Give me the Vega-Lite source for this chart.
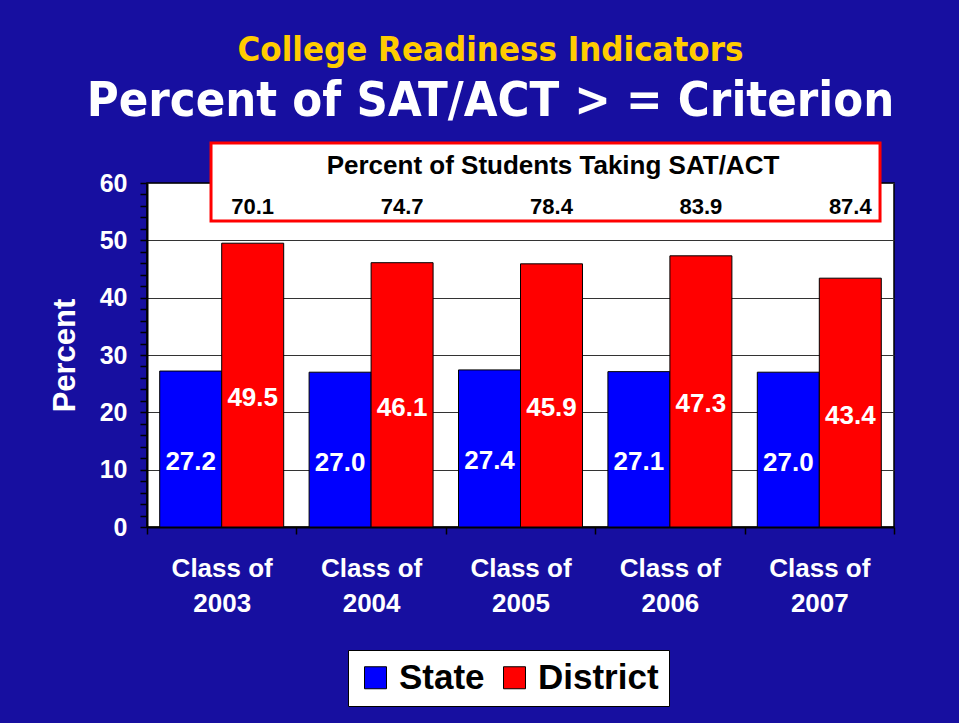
{
  "$schema": "https://vega.github.io/schema/vega-lite/v6.json",
  "width": 747,
  "height": 344,
  "autosize": {"type": "none"},
  "padding": {"left": 147, "top": 183, "right": 65, "bottom": 196},
  "background": "#170fa0",
  "title": {
    "text": "College Readiness Indicators",
    "subtitle": "Percent of SAT/ACT > = Criterion",
    "anchor": "middle",
    "frame": "group",
    "dx": -30,
    "offset": 15,
    "font": "DejaVu Sans Condensed",
    "fontSize": 34.5,
    "fontWeight": "bold",
    "color": "#ffcc00",
    "subtitleFont": "DejaVu Sans Condensed",
    "subtitleFontSize": 48.5,
    "subtitleFontWeight": "bold",
    "subtitleColor": "white",
    "subtitlePadding": 9
  },
  "datasets": {
    "scores": [
      {"class": "Class of 2003", "series": "State", "value": 27.2},
      {"class": "Class of 2003", "series": "District", "value": 49.5},
      {"class": "Class of 2004", "series": "State", "value": 27.0},
      {"class": "Class of 2004", "series": "District", "value": 46.1},
      {"class": "Class of 2005", "series": "State", "value": 27.4},
      {"class": "Class of 2005", "series": "District", "value": 45.9},
      {"class": "Class of 2006", "series": "State", "value": 27.1},
      {"class": "Class of 2006", "series": "District", "value": 47.3},
      {"class": "Class of 2007", "series": "State", "value": 27.0},
      {"class": "Class of 2007", "series": "District", "value": 43.4}
    ],
    "taking": [
      {"class": "Class of 2003", "taking": 70.1},
      {"class": "Class of 2004", "taking": 74.7},
      {"class": "Class of 2005", "taking": 78.4},
      {"class": "Class of 2006", "taking": 83.9},
      {"class": "Class of 2007", "taking": 87.4}
    ]
  },
  "config": {
    "view": {"fill": "white", "stroke": "black", "strokeWidth": 1.5},
    "font": "Liberation Sans"
  },
  "resolve": {"scale": {"x": "independent", "y": "independent"}},
  "layer": [
    {
      "data": {"values": [{}]},
      "layer": [
        {
          "mark": {"type": "rect", "fill": "white", "stroke": "#ff0000", "strokeWidth": 3},
          "encoding": {
            "x": {"datum": 0.0857, "type": "quantitative", "scale": {"domain": [0, 1]}, "axis": null},
            "x2": {"datum": 0.9813},
            "y": {"datum": 66.98, "type": "quantitative", "scale": {"domain": [0, 60], "nice": false}, "axis": null},
            "y2": {"datum": 53.37}
          }
        },
        {
          "mark": {"type": "text", "text": "Percent of Students Taking SAT/ACT", "font": "Liberation Sans", "fontSize": 26, "fontWeight": "bold", "color": "black"},
          "encoding": {
            "x": {"datum": 0.5435, "type": "quantitative", "axis": null},
            "y": {"datum": 63.0, "type": "quantitative", "axis": null}
          }
        }
      ]
    },
    {
      "layer": [
        {
          "data": {"name": "scores"},
          "mark": {"type": "bar", "stroke": "black", "strokeWidth": 1},
          "encoding": {
            "x": {
              "field": "class", "type": "nominal", "sort": null,
              "scale": {"paddingInner": 0, "paddingOuter": 0},
              "axis": {
                "title": null,
                "labelAngle": 0,
                "labelExpr": "datum.label ? ['Class of', substring(datum.label, 9)] : ''",
                "labelLineHeight": 35,
                "labelFont": "Liberation Sans",
                "labelFontSize": 26,
                "labelFontWeight": "bold",
                "labelColor": "white",
                "labelPadding": 21,
                "tickBand": "extent",
                "tickSize": 7,
                "tickColor": "black",
                "tickWidth": 1.5,
                "domainColor": "black",
                "domainWidth": 2
              }
            },
            "xOffset": {"field": "series", "type": "nominal", "sort": ["State", "District"], "scale": {"paddingInner": 0, "paddingOuter": 0.205}},
            "y": {
              "field": "value", "type": "quantitative",
              "scale": {"domain": [0, 60], "nice": false},
              "axis": {
                "title": "Percent",
                "titleColor": "white",
                "titleFont": "Liberation Sans",
                "titleFontSize": 31,
                "titleFontWeight": "bold",
                "titlePadding": 18,
                "values": [0, 2, 4, 6, 8, 10, 12, 14, 16, 18, 20, 22, 24, 26, 28, 30, 32, 34, 36, 38, 40, 42, 44, 46, 48, 50, 52, 54, 56, 58, 60],
                "tickCount": 31,
                "labelExpr": "datum.value % 10 == 0 ? datum.label : ''",
                "labelFont": "Liberation Sans",
                "labelFontSize": 25,
                "labelFontWeight": "bold",
                "labelColor": "white",
                "labelPadding": 13,
                "labelOverlap": false,
                "tickColor": "black",
                "tickSize": 7,
                "tickWidth": 1.5,
                "domainColor": "black",
                "domainWidth": 2,
                "grid": true,
                "gridColor": "#333333",
                "gridWidth": 1.2,
                "gridOpacity": {"condition": {"test": "datum.value % 10 == 0", "value": 1}, "value": 0}
              }
            },
            "color": {
              "field": "series", "type": "nominal", "sort": ["State", "District"],
              "scale": {"domain": ["State", "District"], "range": ["#0000ff", "#ff0000"]},
              "legend": {
                "title": null,
                "orient": "none",
                "legendX": 201,
                "legendY": 467,
                "direction": "horizontal",
                "fillColor": "white",
                "strokeColor": "black",
                "padding": 10,
                "symbolType": "square",
                "symbolSize": 484,
                "symbolStrokeColor": "black",
                "symbolStrokeWidth": 1,
                "symbolOpacity": 1,
                "labelFont": "Liberation Sans",
                "labelFontSize": 35,
                "labelFontWeight": "bold",
                "labelColor": "black",
                "labelOffset": 6,
                "columnPadding": 12
              }
            }
          }
        },
        {
          "data": {"name": "taking"},
          "mark": {"type": "text", "font": "Liberation Sans", "fontSize": 22, "fontWeight": "bold", "color": "black"},
          "encoding": {
            "x": {"field": "class", "type": "nominal", "sort": null},
            "xOffset": {"datum": "District"},
            "y": {"datum": 55.81, "type": "quantitative"},
            "text": {"field": "taking", "type": "quantitative", "format": ".1f"}
          }
        }
      ]
    },
    {
      "data": {"name": "scores"},
      "mark": {"type": "text", "font": "Liberation Sans", "fontSize": 26, "fontWeight": "bold", "color": "white", "dy": 13},
      "encoding": {
        "x": {"field": "class", "type": "nominal", "sort": null, "scale": {"paddingInner": 0, "paddingOuter": 0}, "axis": null},
        "xOffset": {"field": "series", "type": "nominal", "sort": ["State", "District"]},
        "y": {"field": "value", "type": "quantitative", "scale": {"domain": [0, 120], "nice": false}, "axis": null},
        "text": {"field": "value", "type": "quantitative", "format": ".1f"}
      }
    }
  ]
}
